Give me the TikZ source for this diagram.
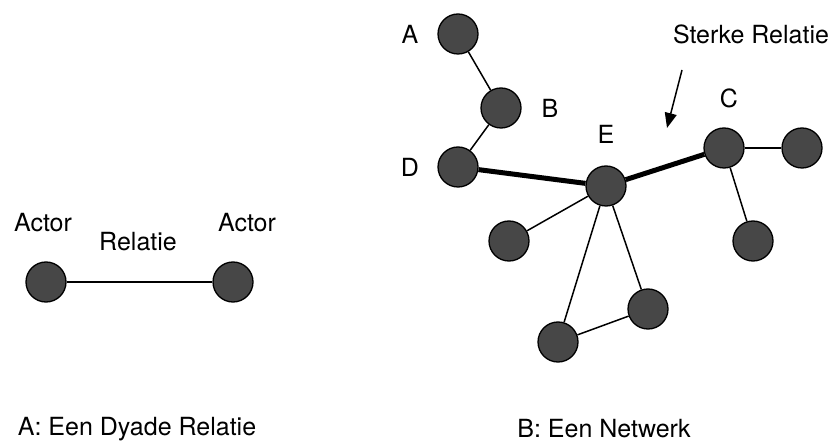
\documentclass[tikz,border=0pt]{standalone}
\usepackage{fontspec}
\setmainfont{TeX Gyre Heros}
\usetikzlibrary{arrows.meta}
\definecolor{actorfill}{HTML}{474747}
\tikzset{
  actor/.style={circle, draw=black, fill=actorfill, line width=1.3pt,
                minimum size=40pt, inner sep=0pt},
  tag/.style={font=\fontsize{25}{30}\selectfont, inner sep=0pt, text=black},
  tie/.style={draw=black, line width=1.5pt},
  strongtie/.style={draw=black, line width=5pt},
  pointer/.style={draw=black, line width=1.5pt,
                  -{Triangle[length=15pt,width=12pt]}}
}
\begin{document}
\begin{tikzpicture}[x=1pt,y=-1pt]
  \useasboundingbox (0,0) rectangle (834,443);

  % dyad
  \node[actor] (a1) at (46,282) {};
  \node[actor] (a2) at (233,282) {};
  \node[tag] (a1lbl) at (43,223) {Actor};
  \node[tag] (a2lbl) at (247,223) {Actor};
  \node[tag] (rellbl) at (138,242) {Relatie};
  \draw[tie] (a1) -- (a2);

  % network
  \node[actor] (nA) at (458,34) {};
  \node[actor] (nB) at (501,108) {};
  \node[actor] (nD) at (458,167) {};
  \node[actor] (nE) at (606,186) {};
  \node[actor] (nC) at (724,148) {};
  \node[actor] (nC1) at (802,148) {};
  \node[actor] (nC2) at (753,241) {};
  \node[actor] (nE1) at (509,241) {};
  \node[actor] (nE2) at (558,342) {};
  \node[actor] (nE3) at (648,309) {};

  \node[tag] (lA) at (410,34) {A};
  \node[tag] (lB) at (550,108) {B};
  \node[tag] (lD) at (410,167) {D};
  \node[tag] (lE) at (606,134) {E};
  \node[tag] (lC) at (729,98) {C};

  \draw[tie] (nA) -- (nB);
  \draw[tie] (nB) -- (nD);
  \draw[strongtie] (nD) -- (nE);
  \draw[strongtie] (nE) -- (nC);
  \draw[tie] (nC) -- (nC1);
  \draw[tie] (nC) -- (nC2);
  \draw[tie] (nE) -- (nE1);
  \draw[tie] (nE) -- (nE2);
  \draw[tie] (nE) -- (nE3);
  \draw[tie] (nE2) -- (nE3);

  % strong tie callout
  \node[tag] (strong) at (751,34) {Sterke Relatie};
  \coordinate (ptrfrom) at (682,70);
  \coordinate (ptrto) at (667,128);
  \draw[pointer] (ptrfrom) -- (ptrto);

  % captions
  \node[tag] (capA) at (137,429) {A: Een Dyade Relatie};
  \node[tag] (capB) at (604,429) {B: Een Netwerk};
\end{tikzpicture}
\end{document}
